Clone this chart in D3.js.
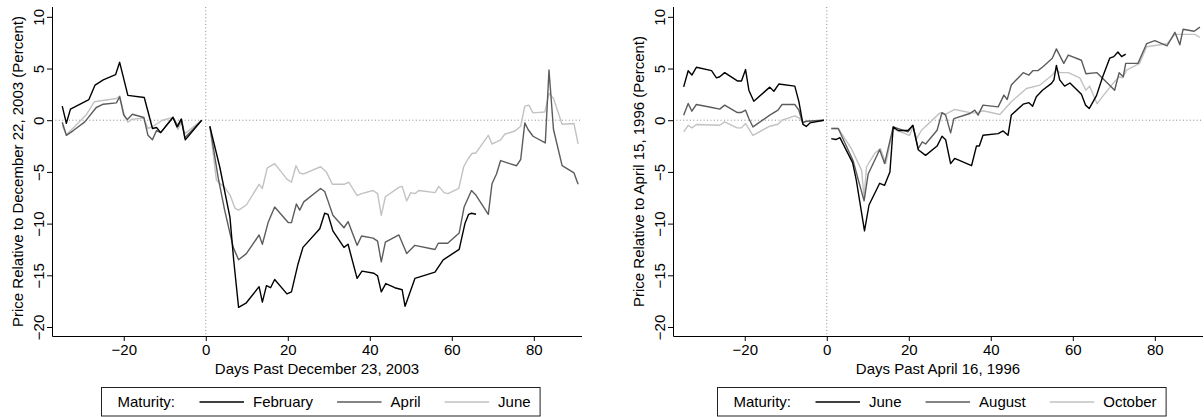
<!DOCTYPE html>
<html>
<head>
<meta charset="utf-8">
<script src="https://cdn.jsdelivr.net/npm/d3@7"></script>
<style>
body { margin: 0; background: #fff; }
text { font-family: "Liberation Sans", Arial, sans-serif; font-size: 15px; fill: #000; }
</style>
</head>
<body>
<div id="chart"></div>
<script>
// Futures price paths around two events
// days: days past event, vals: percent relative to day before (null = gap at event day)

// ---- left panel (December 2003) ----
var febDays = [-35,-34,-33,-28.5,-27,-25,-22,-21,-19,-15,-13,-12,-11,-8,-7,-6,-5,-1,0,
    1,3.4,5.9,6.8,8,9.8,13,13.8,14.8,15.8,16.8,19.8,20.9,22.5,23.7,27.8,29,29.8,31,33.7,34.7,
    36.9,38.1,41,41.9,42.8,43.9,46.1,47.9,48.6,51,55.9,57.9,61.8,63.2,64.1,64.8,65.9];
var febVals = [1.36,-0.3,1.07,2.0,3.4,3.9,4.4,5.6,2.4,2.2,-0.8,-0.7,-1.2,0.26,-0.65,0.1,-1.9,0,null,
    -0.6,-4.5,-9.4,-13.5,-18.1,-17.7,-16.1,-17.6,-16.0,-16.2,-15.4,-16.8,-16.6,-13.9,-12.3,-10.5,-9.0,-9.1,-10.7,-12.3,-12.0,
    -15.3,-14.6,-14.8,-15.05,-16.6,-15.8,-16.2,-16.4,-18.0,-15.3,-14.7,-13.5,-12.5,-10.0,-9.1,-9.0,-9.1];

var aprDays = [-35,-34,-32.3,-29.5,-26.7,-25,-21.8,-21,-20,-19.1,-17.9,-15.1,-14.1,-13,-12,-11,-8,-6.8,-5.9,-5.1,-1,0,
    1,3,4.6,6.7,8,9.9,13,13.8,15.2,16.8,20.1,20.9,22.1,22.9,23.9,28,29,29.8,31,33.7,34.7,36.9,38,40.8,41.9,42.8,43.8,
    47.1,49,51,55.9,56.7,59,61.8,63,64.8,65.8,68.9,69.8,70.9,71.9,74.1,75.8,76.8,77.8,78.6,79.8,82.8,83.7,84.8,86.9,89.8,90.8];
var aprVals = [-0.2,-1.46,-1.0,-0.16,1.23,1.55,1.68,2.27,0.5,0.06,0.58,0.26,-1.46,-1.88,-1.0,-1.2,0.3,-0.6,0.1,-1.7,0,null,
    -0.58,-5.5,-8.7,-12.3,-13.5,-12.9,-11.1,-12.0,-9.9,-8.4,-9.9,-9.9,-8.1,-8.7,-7.9,-6.6,-6.9,-7.8,-9.2,-10.4,-9.8,-12.1,-11.2,-11.4,-11.7,-13.7,-11.8,
    -11.1,-12.9,-12.1,-12.5,-11.9,-11.9,-10.9,-8.4,-6.8,-7.2,-9.1,-6.15,-5.2,-3.9,-4.2,-4.4,-3.8,-0.26,-0.9,-1.55,-2.2,4.85,-0.9,-4.4,-5.1,-6.2];

var junDays = [-35,-34,-32.2,-29.2,-27.2,-21.8,-21,-19.8,-19,-17.9,-15.1,-14.1,-12.8,-10.6,-8,-6.8,-5.9,-5.1,-1,0,
    1,2.6,4.6,6,7.1,8,9.9,13,13.8,15,16.8,19.8,20.9,22,22.9,23.9,28,29.4,30.9,33.7,34.9,36.9,38,40.8,41.9,42.8,43.8,
    47.1,47.9,49,50,51,52,55.9,56.8,58.1,59.1,61.7,62.9,64,65,65.8,68.9,69.8,70.9,71.9,72.9,75.4,76.8,77.8,78.8,79.8,
    82.7,83.7,84.8,86.9,89.8,90.8];
var junVals = [-0.5,-1.4,-0.7,0.5,1.78,2.1,2.34,0.39,-0.19,0.1,0.2,-0.8,-0.58,0,0.26,-0.9,-0.2,-1.3,0,null,
    -0.58,-5.8,-6.5,-7.3,-8.5,-8.7,-8.2,-6.2,-6.6,-4.6,-4.2,-5.7,-6.0,-4.4,-5.1,-5.2,-4.5,-5.0,-6.2,-6.2,-6.0,-7.3,-7.1,-6.8,-7.1,-9.2,-7.4,
    -6.5,-6.4,-7.8,-7.0,-7.1,-6.8,-7.0,-6.4,-7.0,-7.1,-6.6,-4.5,-3.7,-3.2,-3.2,-1.46,-2.3,-2.1,-1.9,-1.36,-1.04,-0.58,1.36,1.46,0.71,
    0.8,2.6,2.1,-0.39,-0.32,-2.3];

// ---- right panel (April 1996) ----
var rJunDays = [-34.9,-33.8,-32.9,-31.8,-28.1,-26.9,-26.1,-24.9,-21.8,-20.8,-19.8,-19,-17.8,-13.9,-12.9,-11.7,-7.8,-6.8,-5.8,-5,-4.1,-0.7,0,
    1.1,2.2,3.2,6.3,7.2,9.2,10.3,12.9,14.1,15.4,16.2,17.4,19.8,21,22.3,24.1,26.9,28.1,29,30.2,31.2,35.3,36.5,37.2,38.1,41.8,43,44.2,
    45,47.9,49.3,50.2,51.1,52.6,54.8,55.4,56,56.8,58,59.3,62.1,63.1,64,65.8,67.2,69,70,71,71.9,72.9];
var rJunVals = [3.23,4.79,4.37,5.12,4.79,4.1,4.2,4.6,3.8,3.8,4.9,2.9,1.84,3.2,2.8,3.5,3.3,1.8,-0.4,-0.6,-0.26,0,null,
    -1.78,-1.87,-1.68,-4.1,-5.8,-10.7,-8.2,-6.1,-6.3,-5.0,-0.65,-1.0,-1.0,-0.5,-2.85,-3.4,-2.5,-1.55,-1.9,-4.2,-3.7,-4.4,-2.5,-2.5,-1.46,-1.3,-1.04,-1.46,
    0.5,1.55,1.7,1.36,2.26,2.9,3.56,3.9,5.3,3.9,3.3,3.6,2.5,1.46,1.13,2.4,4.1,6.0,6.15,6.6,6.15,6.4];

var augDays = [-34.9,-33.8,-32.9,-31.8,-28,-26.1,-24.9,-21.9,-20.8,-19.8,-19,-18,-13.9,-11.9,-10.9,-7.8,-6.8,-5.9,-5,-0.7,0,
    1.1,2.8,6.4,9.1,10.1,12.9,14.1,16.2,19.8,21,22.3,23.3,24.1,26.9,28.1,29,30.2,31,34.9,36.1,36.9,38.1,41.8,43.2,44,45,
    47.9,49.3,50.3,51.5,52.8,55,56,57.8,58.9,62.1,63.2,65.9,70.2,71.3,72.3,72.9,75.9,78,80,83,84.9,86.1,86.9,89.6,91];
var augVals = [0.49,1.62,0.87,1.52,1.23,1.07,1.46,0.75,0.75,0.97,0.16,-0.65,0.49,0.97,1.52,1.52,0.97,-0.26,-0.1,0,null,
    -0.8,-0.8,-3.9,-7.8,-5.2,-2.85,-4.2,-0.65,-1.13,-0.49,-2.75,-2.1,-2.3,-0.97,0.74,0.49,-1.23,0.16,0.65,0.97,0.49,1.46,1.29,2.43,2.0,3.4,
    4.6,4.37,4.8,4.8,5.2,6.0,6.9,5.5,6.3,5.8,4.5,4.6,2.9,4.6,4.2,5.5,5.5,7.4,7.7,7.2,8.5,7.3,8.8,8.6,9.0];

var octDays = [-34.9,-33.8,-32.9,-31.8,-26.1,-24.9,-21.9,-20.8,-19.8,-18,-13.9,-11.9,-10.9,-7.8,-6.8,-5.9,-0.7,0,
    1.1,2.8,6,8.5,9.1,9.7,11.7,13.1,14.4,16.2,17,20.2,21,21.9,23.1,27.6,29,31.2,35.3,36.5,38.1,42.2,45,48.7,52,55,56,56.8,
    58.9,61.7,63.2,64.1,65.9,69.8,71.3,72.1,73.1,76.3,78,83,84.9,87.1,89.8,91];
var octVals = [-1.13,-0.49,-0.74,-0.42,-0.49,-0.16,-0.74,-0.74,-0.32,-1.46,-0.58,-0.39,0,0.42,0.23,-0.16,0,null,
    -0.8,-0.8,-2.75,-4.85,-7.5,-4.5,-3.2,-2.75,-4.2,-0.8,-0.97,-1.46,-0.65,-1.78,-0.97,0.71,0.6,1.04,0.71,0.71,0.91,0.55,1.78,3.07,3.4,4.37,4.85,4.6,
    4.6,4.1,2.9,3.3,1.6,3.56,4.2,4.1,4.85,5.5,7.1,7.4,8.3,8.3,8.3,8.0];

var xTicks = [-20, 0, 20, 40, 60, 80];
var yTicks = [-20, -15, -10, -5, 0, 5, 10];
var colors = ["#000000", "#5c5c5c", "#c2c2c2"];

var leftNames = ["February", "April", "June"];
var rightNames = ["June", "August", "October"];

// set the dimensions of the canvas and of each plot region
var W = 1204, H = 417;
var plotW = 530, plotH = 329, plotTop = 7;

var svg = d3.select("#chart").append("svg")
    .attr("width", W)
    .attr("height", H);

function drawPanel(left, xTitle, yTitle, names, series) {
    var x = d3.scaleLinear().domain([-37.5, 91.75]).range([0, plotW]);
    var y = d3.scaleLinear().domain([-20.87, 10.95]).range([plotH, 0]);

    var g = svg.append("g")
        .attr("transform", "translate(" + left + "," + plotTop + ")");

    // dotted reference lines at zero
    g.append("line")
        .attr("x1", 0).attr("x2", plotW)
        .attr("y1", y(0)).attr("y2", y(0))
        .attr("stroke", "#8a8a8a").attr("stroke-dasharray", "1,2.4");
    g.append("line")
        .attr("x1", x(0)).attr("x2", x(0))
        .attr("y1", 0).attr("y2", plotH)
        .attr("stroke", "#8a8a8a").attr("stroke-dasharray", "1,2.4");

    // the lines, lightest drawn first
    var line = d3.line()
        .defined(function (d) { return d.v !== null; })
        .x(function (d) { return x(d.d); })
        .y(function (d) { return y(d.v); });

    series.slice().reverse().forEach(function (s) {
        var data = s.days.map(function (d, i) { return { d: d, v: s.vals[i] }; });
        g.append("path")
            .datum(data)
            .attr("d", line)
            .attr("fill", "none")
            .attr("stroke", s.color)
            .attr("stroke-width", 1.4)
            .attr("stroke-linejoin", "round");
    });

    // x axis
    var xAxis = g.append("g")
        .attr("transform", "translate(0," + plotH + ")")
        .call(d3.axisBottom(x).tickValues(xTicks).tickSize(5).tickPadding(3));
    // y axis
    var yAxis = g.append("g")
        .call(d3.axisLeft(y).tickValues(yTicks).tickSize(5));

    [xAxis, yAxis].forEach(function (a) {
        a.select(".domain").attr("d", null).remove();
        a.selectAll("line").attr("stroke", "#000");
        a.selectAll("text").attr("font-size", null).attr("font-family", null);
    });
    g.append("path")
        .attr("d", "M0.5,0V" + (plotH + 0.5) + "H" + plotW)
        .attr("fill", "none")
        .attr("stroke", "#000");

    // rotated y tick labels
    yAxis.selectAll(".tick text")
        .attr("x", null).attr("dy", null)
        .attr("text-anchor", "middle")
        .attr("transform", "translate(-8,0) rotate(-90)");

    // axis titles
    g.append("text")
        .attr("x", plotW / 2)
        .attr("y", 367)
        .attr("text-anchor", "middle")
        .text(xTitle);
    g.append("text")
        .attr("transform", "translate(-29," + (plotH / 2) + ") rotate(-90)")
        .attr("text-anchor", "middle")
        .text(yTitle);

    // legend box
    var leg = g.append("g");
    var box = leg.append("rect")
        .attr("fill", "#fff").attr("stroke", "#222").attr("stroke-width", 1);
    var cx = 16.5;
    var t = leg.append("text").attr("x", cx).attr("y", 20).text("Maturity:");
    cx += t.node().getComputedTextLength() + 24.5;
    names.forEach(function (n, i) {
        leg.append("line")
            .attr("x1", cx).attr("x2", cx + 44.5)
            .attr("y1", 15).attr("y2", 15)
            .attr("stroke", colors[i]).attr("stroke-width", 1.4);
        cx += 44.5 + 9;
        var lt = leg.append("text").attr("x", cx).attr("y", 20).text(n);
        cx += lt.node().getComputedTextLength();
        if (i < names.length - 1) cx += 24;
    });
    cx += 9;
    box.attr("x", 0.5).attr("y", 0.5).attr("width", cx).attr("height", 28.5);
    leg.attr("transform", "translate(" + Math.round(plotW / 2 + 3 - cx / 2) + "," + (387 - plotTop) + ")");
}

drawPanel(52, "Days Past December 23, 2003", "Price Relative to December 22, 2003 (Percent)", leftNames, [
    { days: febDays, vals: febVals, color: colors[0] },
    { days: aprDays, vals: aprVals, color: colors[1] },
    { days: junDays, vals: junVals, color: colors[2] }
]);

drawPanel(673, "Days Past April 16, 1996", "Price Relative to April 15, 1996 (Percent)", rightNames, [
    { days: rJunDays, vals: rJunVals, color: colors[0] },
    { days: augDays, vals: augVals, color: colors[1] },
    { days: octDays, vals: octVals, color: colors[2] }
]);
</script>
</body>
</html>
